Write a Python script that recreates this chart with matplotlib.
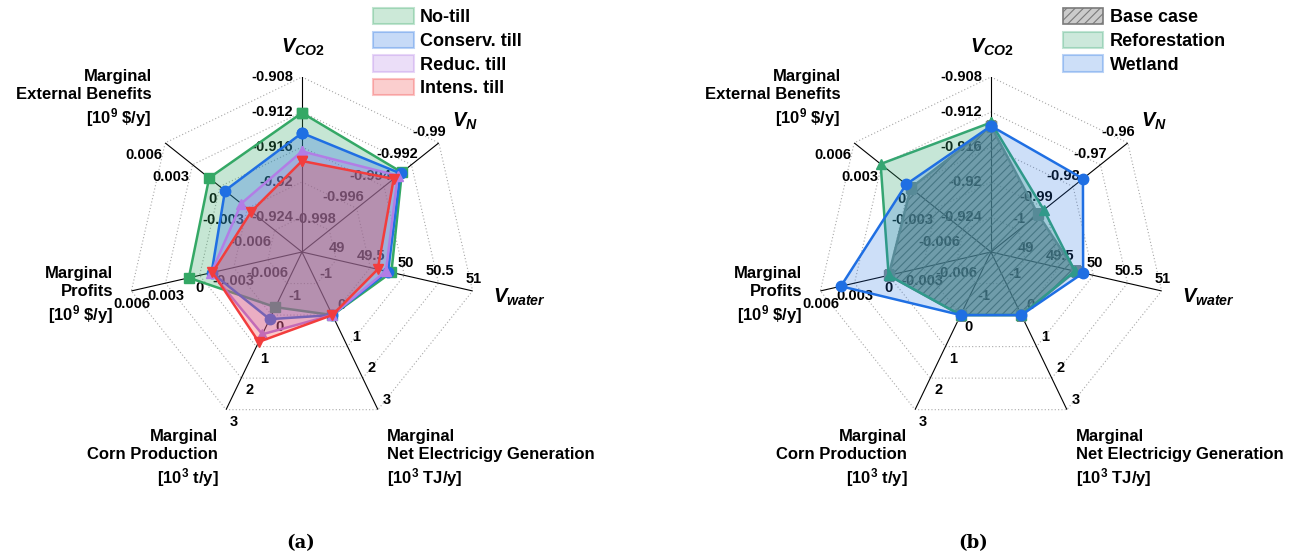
import numpy as np
import matplotlib
matplotlib.use("Agg")
import matplotlib.pyplot as plt
from matplotlib.patches import Patch
from matplotlib.colors import to_rgba

plt.rcParams["font.family"] = "Liberation Sans"
plt.rcParams["font.weight"] = "bold"
plt.rcParams["mathtext.fontset"] = "custom"
plt.rcParams["mathtext.rm"] = "Liberation Sans:bold"
plt.rcParams["mathtext.it"] = "Liberation Sans:italic:bold"
plt.rcParams["mathtext.bf"] = "Liberation Sans:bold"
plt.rcParams["hatch.linewidth"] = 0.8

# ---- axis names -------------------------------------------------------------
axis_names = [
    r"$V_{CO\mathit{2}}$",
    r"$V_{N}$",
    r"$V_{water}$",
    "Marginal\nNet Electricigy Generation\n[10$^3$ TJ/y]",
    "Marginal\nCorn Production\n[10$^3$ t/y]",
    "Marginal\nProfits\n[10$^9$ \\$/y]",
    "Marginal\nExternal Benefits\n[10$^9$ \\$/y]",
]

# ---- tick values on each spoke ---------------------------------------------
ticks_co2 = [-0.924, -0.920, -0.916, -0.912, -0.908]
ticks_n_a = [-0.998, -0.996, -0.994, -0.992, -0.990]
ticks_n_b = [-1.00, -0.99, -0.98, -0.97, -0.96]
ticks_water = [49.0, 49.5, 50.0, 50.5, 51.0]
ticks_elec = [-1, 0, 1, 2, 3]
ticks_corn = [-1, 0, 1, 2, 3]
ticks_profit = [-0.006, -0.003, 0.0, 0.003, 0.006]
ticks_ext = [-0.006, -0.003, 0.0, 0.003, 0.006]

ticks_a = [ticks_co2, ticks_n_a, ticks_water, ticks_elec, ticks_corn, ticks_profit, ticks_ext]
ticks_b = [ticks_co2, ticks_n_b, ticks_water, ticks_elec, ticks_corn, ticks_profit, ticks_ext]

# ---- (a) tillage practices -------------------------------------------------
# order: V_CO2, V_N, V_water, electricity, corn, profits, external benefits
no_till = [-0.9121, -0.9927, 49.81, 0.0, -0.25, 0.00095, 0.00118]
conserv_till = [-0.9144, -0.9928, 49.76, 0.0, 0.13, -0.00105, -0.00056]
reduc_till = [-0.9165, -0.9930, 49.73, 0.0, 0.61, -0.00103, -0.00234]
intens_till = [-0.9176, -0.9933, 49.61, 0.0, 0.85, -0.00113, -0.00344]

# ---- (b) land-use scenarios ------------------------------------------------
base_case = [-0.9136, -0.9928, 49.74, 0.0, 0.0, 0.0, -0.0002]
reforestation = [-0.9132, -0.9907, 49.73, 0.0, 0.0, 0.0, 0.0031]
wetland = [-0.9136, -0.9764, 49.85, 0.0, 0.0, 0.0042, 0.0003]

GREEN = "#34a865"
BLUE = "#1f6fe3"
PURPLE = "#b27de6"
RED = "#f23d3d"
GREEN_B = "#35a672"
GRAY = "#7d8b89"

N = len(axis_names)
thetas = np.arange(N) * 2 * np.pi / N

# tick label placement per spoke: (ha, dx px, dy px)
tick_style = [
    ("right", -9, 0),
    ("right", 7, 11),
    ("center", 1, 12),
    ("center", 9, 10),
    ("center", 8, -12),
    ("center", 0, -13),
    ("right", -3, -12),
]

# axis-name placement in axes coordinates: (x, y, ha, fontsize)
name_style = [
    (0.503, 1.086, "center", 14.5),
    (0.966, 0.874, "center", 14.5),
    (1.046, 0.371, "left", 14.5),
    (0.743, -0.091, "left", 12),
    (0.261, -0.091, "right", 12),
    (-0.040, 0.374, "right", 12),
    (0.071, 0.937, "right", 12),
]


def to_radius(values, ticks):
    r = []
    for v, t in zip(values, ticks):
        step = t[1] - t[0]
        lo = t[0] - step
        hi = t[-1]
        r.append((v - lo) / (hi - lo))
    return np.array(r)


def closed(a):
    return np.concatenate([a, a[:1]])


def draw_frame(ax, ticks):
    ax.set_theta_offset(np.pi / 2)
    ax.set_theta_direction(-1)
    ax.set_ylim(0, 1)
    ax.axis("off")
    levels = np.linspace(0.2, 1.0, 5)
    for lv in levels:
        ax.plot(closed(thetas), np.full(N + 1, lv), ls=(0, (1, 2)),
                color="#a8a8a8", lw=0.8, zorder=0.5)
    for k, th in enumerate(thetas):
        ax.plot([th, th], [0, 1], color="black", lw=0.8, zorder=1)
        ha, dx, dy = tick_style[k]
        for lv, tv in zip(levels, ticks[k]):
            ax.annotate("%g" % tv, xy=(th, lv), xytext=(dx, dy),
                        textcoords="offset pixels", ha=ha, va="center",
                        fontsize=10.5, fontweight="bold", zorder=1)
        x, y, nha, fs = name_style[k]
        ax.text(x, y, axis_names[k], transform=ax.transAxes, ha=nha,
                va="center", fontsize=fs, fontweight="bold", linespacing=1.25)


def draw_series(ax, values, ticks, color, marker, alpha=0.3, z=2):
    r = closed(to_radius(values, ticks))
    th = closed(thetas)
    ax.fill(th, r, color=color, alpha=alpha, lw=0, zorder=z)
    ax.plot(th, r, color=color, lw=1.8, marker=marker, ms=7.5, zorder=z + 0.5,
            clip_on=False)


fig = plt.figure(figsize=(13, 5.59), dpi=100)
ax_a = fig.add_axes([0.09769, 0.23614, 0.26923, 0.62612], projection="polar")
ax_b = fig.add_axes([0.62769, 0.23614, 0.26923, 0.62612], projection="polar")

# ---- panel (a) ----
draw_frame(ax_a, ticks_a)
series_a = [
    ("No-till", no_till, GREEN, "s"),
    ("Conserv. till", conserv_till, BLUE, "o"),
    ("Reduc. till", reduc_till, PURPLE, "^"),
    ("Intens. till", intens_till, RED, "v"),
]
handles_a = []
for i, (lab, vals, col, mk) in enumerate(series_a):
    draw_series(ax_a, vals, ticks_a, col, mk, alpha=0.28, z=2 + i)
    handles_a.append(Patch(facecolor=to_rgba(col, 0.25),
                           edgecolor=to_rgba(col, 0.3), lw=1.5, label=lab))
ax_a.legend(handles=handles_a, loc="upper left", bbox_to_anchor=(0.703, 1.197),
            bbox_transform=ax_a.transAxes, frameon=False, fontsize=13,
            borderpad=0, borderaxespad=0, handlelength=2.25, handleheight=1.0,
            handletextpad=0.35, labelspacing=0.3)
ax_a.text(0.497, -0.331, "(a)", transform=ax_a.transAxes, ha="center",
          va="center", fontsize=13, family="DejaVu Serif", fontweight="bold")

# ---- panel (b) ----
draw_frame(ax_b, ticks_b)
r_base = closed(to_radius(base_case, ticks_b))
th = closed(thetas)
ax_b.fill(th, r_base, facecolor=(0.42, 0.45, 0.45, 0.6), edgecolor="#5c6664",
          hatch="////", lw=0, zorder=2)
ax_b.plot(th, r_base, color=GRAY, lw=1.8, marker="s", ms=7.5, zorder=2.5)
draw_series(ax_b, reforestation, ticks_b, GREEN_B, "^", alpha=0.28, z=3)
draw_series(ax_b, wetland, ticks_b, BLUE, "o", alpha=0.22, z=4)
handles_b = [
    Patch(facecolor=(0.55, 0.55, 0.55, 0.45), edgecolor="#7a7a7a", hatch="////",
          lw=1.2, label="Base case"),
    Patch(facecolor=to_rgba(GREEN_B, 0.25), edgecolor=to_rgba(GREEN_B, 0.3),
          lw=1.5, label="Reforestation"),
    Patch(facecolor=to_rgba(BLUE, 0.22), edgecolor=to_rgba(BLUE, 0.3),
          lw=1.5, label="Wetland"),
]
ax_b.legend(handles=handles_b, loc="upper left", bbox_to_anchor=(0.705, 1.197),
            bbox_transform=ax_b.transAxes, frameon=False, fontsize=13,
            borderpad=0, borderaxespad=0, handlelength=2.25, handleheight=1.0,
            handletextpad=0.35, labelspacing=0.3)
ax_b.text(0.449, -0.331, "(b)", transform=ax_b.transAxes, ha="center",
          va="center", fontsize=13, family="DejaVu Serif", fontweight="bold")

fig.savefig("out.png", dpi=100)
